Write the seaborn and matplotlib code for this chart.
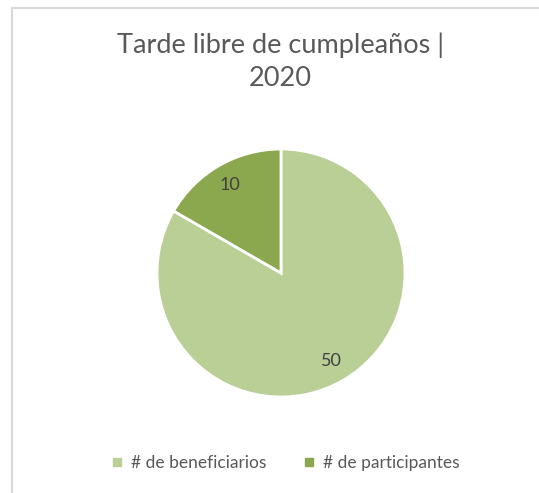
import matplotlib.pyplot as plt
from matplotlib.lines import Line2D
import numpy as np
import seaborn as sns

sns.set_theme(style="white")
plt.rcParams['font.family'] = ['Lato', 'DejaVu Sans']

categories = ['# de beneficiarios', '# de participantes']
values = [50, 10]
colors = ['#B9CF96', '#8CA84E']
title = 'Tarde libre de cumpleaños |\n2020'

fig = plt.figure(figsize=(5.39, 4.93), dpi=100)

# frame lines (top and left only, like the cropped chart box)
fig.add_artist(Line2D([12/539, 1], [1 - 7.5/493, 1 - 7.5/493], color='#D9D9D9', lw=1.5))
fig.add_artist(Line2D([12.5/539, 12.5/539], [0, 1 - 7.5/493], color='#D9D9D9', lw=1.5))

ax = fig.add_axes([(281 - 124)/539, (493 - 273 - 124)/493, 248/539, 248/493])
total = sum(values)
wedges, texts, autotexts = ax.pie(
    values, colors=colors, startangle=90, counterclock=False,
    wedgeprops=dict(edgecolor='white', linewidth=2),
    autopct=lambda p: f'{p * total / 100:.0f}', pctdistance=0.82,
    textprops=dict(color='#404040', fontsize=13))
ax.set_xlim(-1, 1)
ax.set_ylim(-1, 1)
ax.set_aspect('equal')

fig.text(0.52, 1 - 62/493, title, ha='center', va='center',
         fontsize=19.5, color='#595959', linespacing=1.4)

handles = [Line2D([], [], marker='s', linestyle='none', markersize=6,
                  markerfacecolor=c, markeredgecolor=c) for c in colors]
fig.legend(handles, categories, loc='center', bbox_to_anchor=(0.527, 1 - 463/493),
           ncol=2, frameon=False, fontsize=12.5, handletextpad=0.3,
           handlelength=1.0, columnspacing=2.0, labelcolor='#595959')

fig.savefig('out.png', dpi=100, facecolor='white')
